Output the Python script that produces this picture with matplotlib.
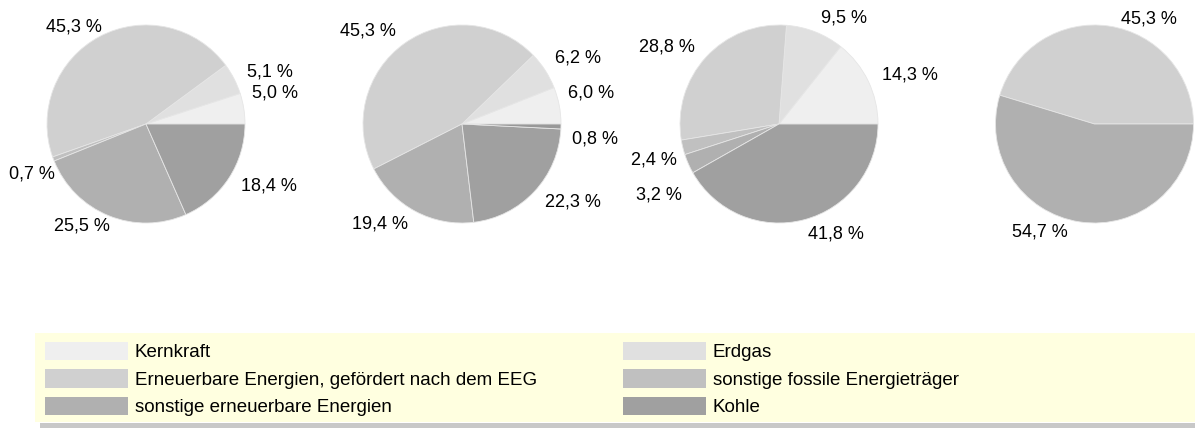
import matplotlib
matplotlib.use("Agg")
import matplotlib.pyplot as plt
from matplotlib.patches import Rectangle, Patch

plt.rcParams['font.family'] = ['Liberation Sans', 'DejaVu Sans']

# ---- data ----
categories = ["Kernkraft", "Erdgas",
              "Erneuerbare Energien, gefördert nach dem EEG",
              "sonstige fossile Energieträger",
              "sonstige erneuerbare Energien", "Kohle", "Sonstige"]
cat_colors = ["#efefef", "#e0e0e0", "#d0d0d0", "#c0c0c0", "#b0b0b0", "#a0a0a0", "#989898"]

pie1_cats = [0, 1, 2, 3, 4, 5]
pie1_vals = [5.0, 5.1, 45.3, 0.7, 25.5, 18.4]
pie2_cats = [0, 1, 2, 4, 5, 6]
pie2_vals = [6.0, 6.2, 45.3, 19.4, 22.3, 0.8]
pie3_cats = [0, 1, 2, 3, 4, 5]
pie3_vals = [14.3, 9.5, 28.8, 2.4, 3.2, 41.8]
pie4_cats = [2, 4]
pie4_vals = [45.3, 54.7]

legend_col1 = [0, 2, 4]
legend_col2 = [1, 3, 5]

pies = [(pie1_cats, pie1_vals), (pie2_cats, pie2_vals),
        (pie3_cats, pie3_vals), (pie4_cats, pie4_vals)]

# label nudges (layout only, in pie-radius units), to mimic the spread-out labels
label_nudges = [
    {0: (-0.07, 0.13), 2: (0.09, -0.04), 3: (0.16, -0.10), 4: (0.07, 0.03)},
    {0: (-0.06, 0.10), 1: (-0.03, 0.04), 5: (-0.04, -0.12)},
    {3: (0.09, -0.09), 4: (0.07, -0.25)},
    {0: (0.10, -0.08), 1: (-0.10, 0.05)},
]

W, H = 1195, 428
fig = plt.figure(figsize=(W / 100, H / 100), dpi=100)

centers_x = [146, 462, 779, 1094.5]
cy = 124
R = 99

def fmt(v):
    return f"{v:.1f} %".replace(".", ",")

for (cats, vals), cx, nud in zip(pies, centers_x, label_nudges):
    ax = fig.add_axes([(cx - R) / W, (H - cy - R) / H, 2 * R / W, 2 * R / H])
    wedges, texts = ax.pie(vals, colors=[cat_colors[c] for c in cats],
                           labels=[fmt(v) for v in vals], startangle=0,
                           counterclock=True, labeldistance=1.15,
                           wedgeprops=dict(edgecolor="#e6e6e6", linewidth=0.6),
                           textprops=dict(fontsize=13, color="black"))
    for i, t in enumerate(texts):
        t.set_clip_on(False)
        if i in nud:
            x, y = t.get_position()
            t.set_position((x + nud[i][0], y + nud[i][1]))
    ax.set_xlim(-1, 1)
    ax.set_ylim(-1, 1)
    ax.axis("off")

# ---- legend background ----
fig.patches.append(Rectangle((40 / W, 0), (W - 40) / W, (428 - 423) / H,
                             transform=fig.transFigure, facecolor="#c8c8c8",
                             edgecolor="none", zorder=0))
fig.patches.append(Rectangle((35 / W, (H - 422) / H), (W - 35) / W, (422 - 333) / H,
                             transform=fig.transFigure, facecolor="#ffffe0",
                             edgecolor="none", zorder=0))

fs = 13.5
fpx = fs * 100 / 72
common = dict(loc="upper left", frameon=False, fontsize=fs, borderpad=0,
              borderaxespad=0, handlelength=83 / fpx, handleheight=21 / fpx,
              handletextpad=7 / fpx, labelspacing=8 / fpx)
for col, x0 in ((legend_col1, 45), (legend_col2, 623)):
    handles = [Patch(facecolor=cat_colors[c], edgecolor="none") for c in col]
    labels = [categories[c] for c in col]
    fig.legend(handles, labels, bbox_to_anchor=(x0 / W, (H - 342) / H), **common)

fig.savefig("out.png", dpi=100)
